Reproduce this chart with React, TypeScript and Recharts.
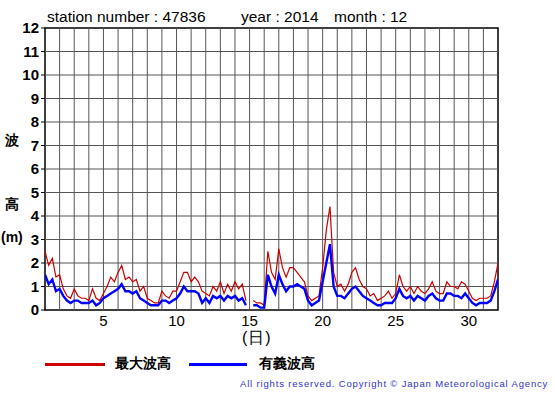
import React from "react";
import { LineChart, Line, XAxis, YAxis, ReferenceLine, ReferenceArea } from "recharts";

// readings every 6 hours (00, 06, 12, 18 h) for each day of Dec 2014, in metres
const days = [
  1, 2, 3, 4, 5, 6, 7, 8, 9, 10, 11, 12, 13, 14, 15, 16,
  17, 18, 19, 20, 21, 22, 23, 24, 25, 26, 27, 28, 29, 30, 31, 32,
];

const maxWave: (number | null)[][] = [
  [2.5, 1.9, 2.2, 1.4],
  [1.5, 0.9, 0.6, 0.5],
  [0.9, 0.6, 0.5, 0.5],
  [0.4, 0.9, 0.5, 0.4],
  [0.7, 1.0, 1.4, 1.2],
  [1.6, 1.9, 1.3, 1.4],
  [1.2, 1.3, 0.8, 1.0],
  [0.5, 0.4, 0.3, 0.3],
  [0.8, 0.6, 0.5, 0.8],
  [0.8, 1.2, 1.6, 1.6],
  [1.2, 1.4, 1.2, 0.8],
  [0.7, 0.6, 1.0, 0.8],
  [1.2, 0.7, 1.1, 0.8],
  [1.2, 0.9, 1.1, 0.4],
  [null, 0.4, 0.3, 0.3],
  [0.2, 2.5, 1.6, 1.3],
  [2.6, 1.8, 1.4, 1.8],
  [1.8, 1.6, 1.4, 1.2],
  [0.6, 0.4, 0.5, 0.6],
  [1.8, 3.4, 4.4, 1.6],
  [1.0, 1.1, 0.8, 1.1],
  [1.6, 1.8, 1.3, 1.0],
  [0.9, 0.6, 0.7, 0.4],
  [0.5, 0.6, 0.8, 0.5],
  [0.7, 1.5, 1.0, 0.8],
  [1.0, 0.7, 1.0, 0.8],
  [0.7, 0.9, 1.2, 0.8],
  [0.7, 0.7, 1.2, 1.0],
  [1.0, 0.9, 1.2, 1.1],
  [0.8, 0.5, 0.4, 0.5],
  [0.5, 0.5, 0.6, 1.2],
  [2.0],
];

const sigWave: (number | null)[][] = [
  [1.5, 1.1, 1.3, 0.8],
  [0.9, 0.6, 0.4, 0.3],
  [0.4, 0.4, 0.3, 0.3],
  [0.3, 0.4, 0.2, 0.3],
  [0.5, 0.6, 0.7, 0.8],
  [0.9, 1.1, 0.8, 0.8],
  [0.7, 0.8, 0.5, 0.4],
  [0.3, 0.2, 0.2, 0.2],
  [0.4, 0.4, 0.3, 0.4],
  [0.5, 0.7, 1.0, 0.8],
  [0.8, 0.8, 0.7, 0.3],
  [0.5, 0.3, 0.6, 0.5],
  [0.6, 0.4, 0.6, 0.5],
  [0.6, 0.4, 0.5, 0.2],
  [null, 0.2, 0.2, 0.1],
  [0.1, 1.5, 1.0, 0.7],
  [1.5, 1.1, 0.8, 1.0],
  [1.0, 1.1, 1.0, 0.9],
  [0.4, 0.2, 0.3, 0.4],
  [1.2, 2.0, 2.8, 1.0],
  [0.6, 0.6, 0.5, 0.7],
  [0.9, 1.0, 0.8, 0.6],
  [0.5, 0.4, 0.3, 0.2],
  [0.2, 0.3, 0.3, 0.3],
  [0.5, 0.9, 0.6, 0.5],
  [0.6, 0.4, 0.6, 0.5],
  [0.4, 0.6, 0.7, 0.5],
  [0.4, 0.4, 0.7, 0.7],
  [0.6, 0.6, 0.5, 0.7],
  [0.5, 0.3, 0.2, 0.3],
  [0.3, 0.3, 0.4, 0.8],
  [1.3],
];

const xTicks = [5, 10, 15, 20, 25, 30];
const yTicks = [0, 1, 2, 3, 4, 5, 6, 7, 8, 9, 10, 11, 12];

const data = days.flatMap((d, i) =>
  maxWave[i].map((m, j) => ({ t: d + j * 0.25, max: m, sig: sigWave[i][j] }))
);

const font = "'Liberation Sans', Arial, sans-serif";

export default function App() {
  return (
    <div
      style={{
        position: "absolute",
        left: 0,
        top: 0,
        width: 555,
        height: 395,
        background: "#fff",
        fontFamily: font,
        color: "#000",
      }}
    >
      <LineChart
        width={555}
        height={395}
        data={data}
        margin={{ top: 28, right: 57, bottom: 55, left: 0 }}
      >
        <XAxis
          dataKey="t"
          type="number"
          domain={[1, 32]}
          ticks={xTicks}
          axisLine={false}
          tickLine={false}
          tickSize={3}
          tick={{ fill: "#000", fontSize: 15, fontFamily: font }}
          height={30}
          allowDataOverflow
        />
        <YAxis
          type="number"
          domain={[0, 12]}
          ticks={yTicks}
          interval={0}
          axisLine={false}
          tickLine={{ stroke: "#000" }}
          tickSize={4}
          tickMargin={2}
          tick={{ fill: "#000", fontSize: 15, fontWeight: "bold", fontFamily: font }}
          width={45}
        />
        {days.slice(1, -1).map((d) => (
          <ReferenceLine key={"v" + d} x={d} stroke="#555" strokeWidth={1} />
        ))}
        {yTicks.slice(1, -1).map((v) => (
          <ReferenceLine key={"h" + v} y={v} stroke="#555" strokeWidth={1} />
        ))}
        <Line
          type="linear"
          dataKey="max"
          stroke="#cc0000"
          strokeWidth={1.2}
          dot={false}
          isAnimationActive={false}
        />
        <Line
          type="linear"
          dataKey="sig"
          stroke="#0000ff"
          strokeWidth={2.4}
          dot={false}
          isAnimationActive={false}
        />
        <ReferenceArea x1={1} x2={32} y1={0} y2={12} fill="none" stroke="#000" strokeWidth={1.5} />
      </LineChart>

      <div style={{ position: "absolute", left: 47, top: 8, fontSize: 15.5, whiteSpace: "nowrap" }}>
        station number : 47836
      </div>
      <div style={{ position: "absolute", left: 241, top: 8, fontSize: 15.5, whiteSpace: "nowrap" }}>
        year : 2014
      </div>
      <div style={{ position: "absolute", left: 334, top: 8, fontSize: 15.5, whiteSpace: "nowrap" }}>
        month : 12
      </div>

      <div style={{ position: "absolute", left: 5, top: 132, fontSize: 14, fontWeight: "bold" }}>波</div>
      <div style={{ position: "absolute", left: 5, top: 196, fontSize: 14, fontWeight: "bold" }}>高</div>
      <div style={{ position: "absolute", left: 1, top: 229, fontSize: 14, fontWeight: "bold" }}>(m)</div>

      <div style={{ position: "absolute", left: 242, top: 328, fontSize: 16, letterSpacing: 1 }}>(日)</div>

      <div style={{ position: "absolute", left: 45, top: 363, width: 60, height: 3, background: "#cc0000" }} />
      <div style={{ position: "absolute", left: 115, top: 355, fontSize: 14, fontWeight: "bold" }}>最大波高</div>
      <div style={{ position: "absolute", left: 189, top: 363, width: 58, height: 3, background: "#0000ff" }} />
      <div style={{ position: "absolute", left: 259, top: 355, fontSize: 14, fontWeight: "bold" }}>有義波高</div>

      <div
        style={{
          position: "absolute",
          left: 240,
          top: 378,
          fontSize: 9.5,
          letterSpacing: 0.83,
          color: "#3333cc",
          whiteSpace: "nowrap",
        }}
      >
        All rights reserved. Copyright © Japan Meteorological Agency
      </div>
    </div>
  );
}
